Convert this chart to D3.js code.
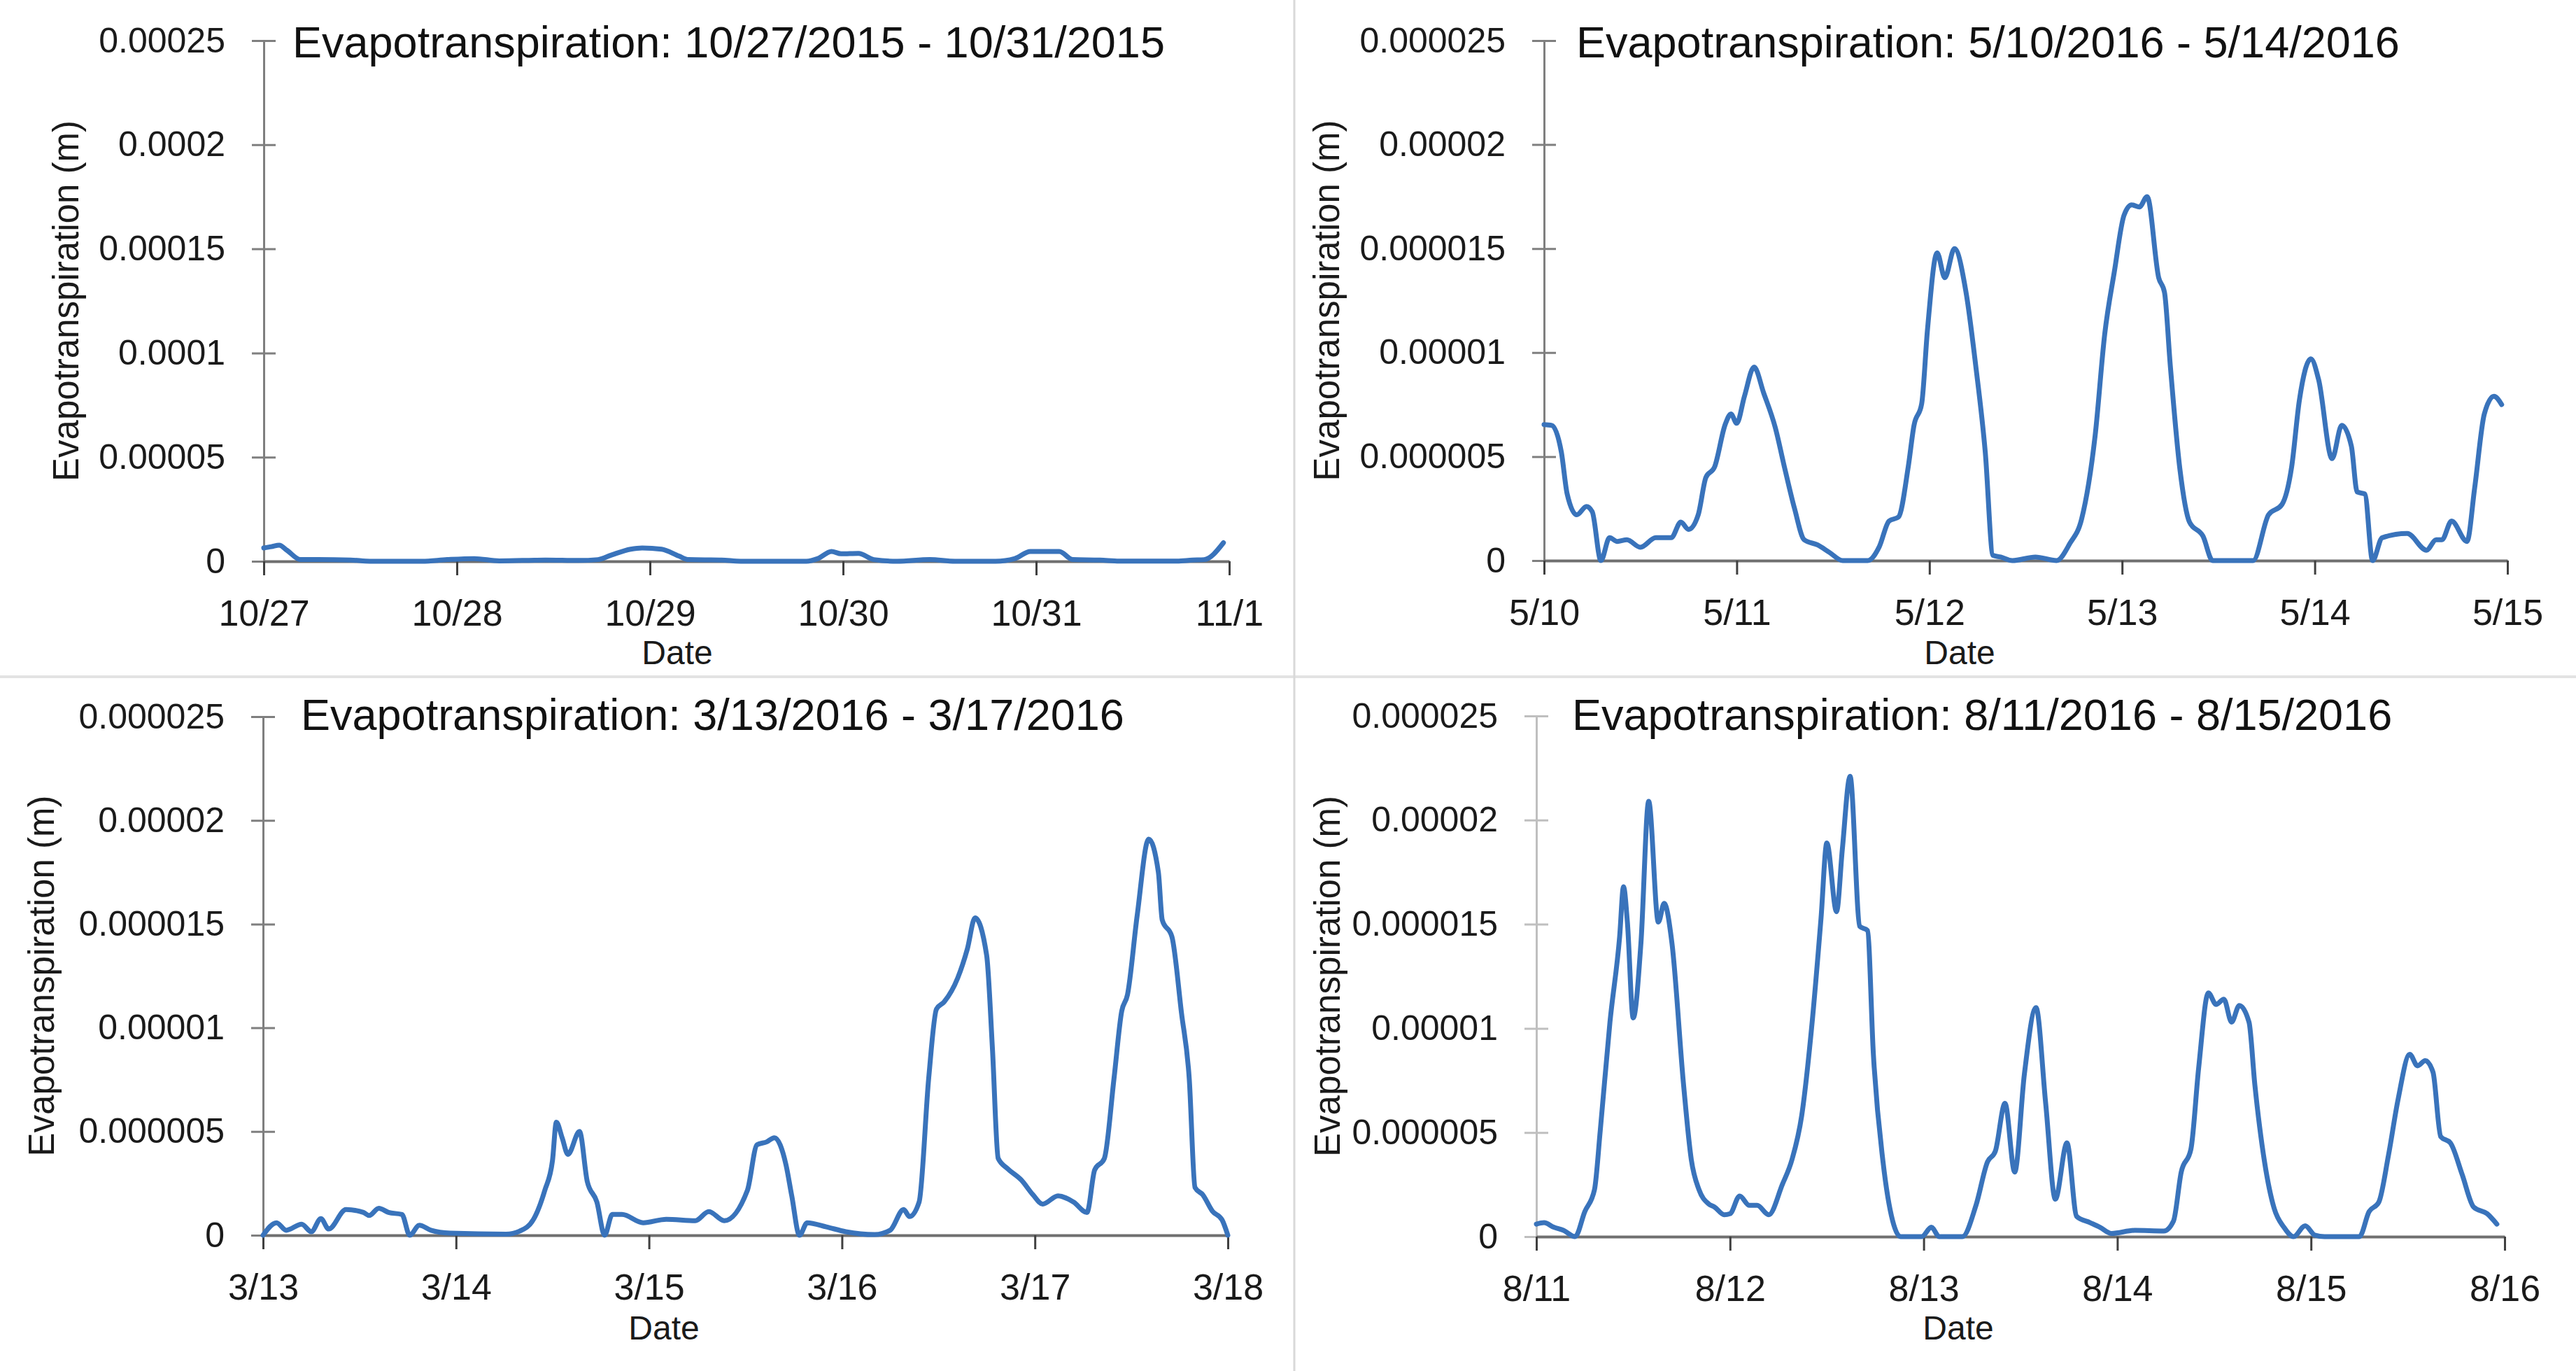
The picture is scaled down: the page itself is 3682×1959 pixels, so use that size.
<!DOCTYPE html>
<html>
<head>
<meta charset="utf-8">
<script src="https://cdn.jsdelivr.net/npm/d3@7"></script>
<style>
  body { margin: 0; background: #fff; }
  svg { display: block; }
</style>
</head>
<body>
<div id="plot"></div>
<script>
const CANVAS_WIDTH  = 3682;
const CANVAS_HEIGHT = 1959;
const LINE_COLOR    = "#3973bb";
const FONT          = "'Liberation Sans', Arial, sans-serif";

// values are in micrometres (1e-6 m); x is days since the first tick
const ET_OCT_2015 = [
  [0, 6.4], [0.04, 7.0], [0.08, 7.75], [0.12, 5.3], [0.19, 0.8], [0.28, 0.8], [0.45, 0.6],
  [0.55, 0], [0.82, 0], [0.95, 0.8], [1.09, 1.3], [1.22, 0.2], [1.46, 0.6], [1.63, 0.4],
  [1.73, 0.8], [1.8, 3.0], [1.9, 5.8], [1.96, 6.4], [2.06, 5.8], [2.15, 2.5], [2.2, 0.8],
  [2.37, 0.6], [2.47, 0], [2.81, 0], [2.87, 1.3], [2.94, 4.7], [2.99, 3.6], [3.08, 3.8],
  [3.16, 0.8], [3.28, 0], [3.45, 0.8], [3.58, 0], [3.79, 0], [3.89, 1.3], [3.97, 4.7],
  [4.12, 4.7], [4.19, 0.8], [4.33, 0.6], [4.43, 0.1], [4.73, 0.1], [4.81, 0.6], [4.87, 0.8],
  [4.97, 8.9]
];

const ET_MAY_2016 = [
  [0, 6.54], [0.04, 6.5], [0.09, 5.2], [0.12, 3.2], [0.17, 2.2], [0.22, 2.6], [0.25, 2.35],
  [0.295, 0], [0.34, 1.1], [0.38, 0.92], [0.43, 1.0], [0.5, 0.64], [0.58, 1.1], [0.66, 1.1],
  [0.71, 1.85], [0.75, 1.5], [0.8, 2.2], [0.84, 4.0], [0.885, 4.5], [0.94, 6.54], [0.97, 7.05],
  [1.0, 6.6], [1.04, 7.9], [1.09, 9.3], [1.14, 8.05], [1.2, 6.4], [1.25, 4.4], [1.3, 2.5],
  [1.35, 1.0], [1.42, 0.75], [1.48, 0.4], [1.55, 0], [1.68, 0], [1.74, 0.67], [1.79, 1.9],
  [1.84, 2.1], [1.89, 4.5], [1.92, 6.5], [1.96, 7.55], [1.99, 11.1], [2.04, 14.8], [2.08, 13.6],
  [2.13, 15.0], [2.19, 12.9], [2.24, 9.4], [2.29, 5.2], [2.33, 0.25], [2.37, 0.17], [2.43, 0],
  [2.55, 0.17], [2.66, 0], [2.73, 0.84], [2.79, 2.0], [2.86, 6.0], [2.91, 10.9], [2.96, 13.9],
  [3.01, 16.6], [3.05, 17.1], [3.09, 17.0], [3.13, 17.5], [3.19, 13.6], [3.22, 12.9], [3.25, 9.4],
  [3.3, 4.4], [3.35, 1.85], [3.42, 1.17], [3.47, 0], [3.68, 0], [3.76, 2.2], [3.83, 2.7],
  [3.88, 4.5], [3.92, 7.7], [3.98, 9.7], [4.02, 8.7], [4.09, 4.9], [4.14, 6.5], [4.19, 5.5],
  [4.22, 3.3], [4.26, 3.2], [4.3, 0], [4.35, 1.1], [4.48, 1.3], [4.58, 0.5], [4.63, 1.0],
  [4.66, 1.0], [4.71, 1.9], [4.79, 0.92], [4.83, 3.5], [4.88, 7.05], [4.93, 7.9], [4.97, 7.5]
];

const ET_MAR_2016 = [
  [0, 0], [0.07, 0.6], [0.12, 0.24], [0.2, 0.53], [0.25, 0.17], [0.3, 0.8], [0.34, 0.3],
  [0.43, 1.24], [0.52, 1.1], [0.55, 0.95], [0.6, 1.3], [0.65, 1.1], [0.72, 1.0], [0.76, 0],
  [0.81, 0.48], [0.87, 0.24], [0.97, 0.1], [1.26, 0.05], [1.33, 0.2], [1.4, 0.74], [1.46, 2.16],
  [1.5, 3.6], [1.52, 5.45], [1.55, 4.7], [1.58, 3.9], [1.64, 5.0], [1.68, 2.6], [1.73, 1.6],
  [1.77, 0], [1.81, 1.0], [1.86, 1.0], [1.97, 0.6], [2.09, 0.77], [2.24, 0.7], [2.31, 1.14],
  [2.39, 0.7], [2.51, 2.16], [2.56, 4.36], [2.61, 4.5], [2.65, 4.7], [2.71, 3.4], [2.74, 1.9],
  [2.78, 0], [2.82, 0.6], [2.92, 0.4], [3.02, 0.17], [3.17, 0.03], [3.25, 0.24], [3.32, 1.24],
  [3.35, 0.9], [3.4, 1.6], [3.45, 7.6], [3.49, 10.9], [3.53, 11.25], [3.6, 12.4], [3.65, 13.8],
  [3.69, 15.3], [3.75, 13.5], [3.78, 9.0], [3.81, 3.7], [3.86, 3.2], [3.93, 2.66], [3.99, 1.95],
  [4.04, 1.5], [4.12, 1.9], [4.2, 1.6], [4.27, 1.1], [4.31, 3.15], [4.36, 3.7], [4.41, 7.55],
  [4.45, 10.8], [4.48, 11.6], [4.53, 15.4], [4.59, 19.1], [4.64, 17.5], [4.66, 15.2], [4.71, 14.4],
  [4.76, 10.7], [4.8, 7.55], [4.83, 2.3], [4.87, 1.95], [4.92, 1.16], [4.97, 0.74], [5.0, 0]
];

const ET_AUG_2016 = [
  [0, 0.6], [0.04, 0.67], [0.09, 0.45], [0.14, 0.3], [0.2, 0], [0.25, 1.2], [0.3, 2.25],
  [0.33, 5.1], [0.38, 10.3], [0.43, 14.4], [0.45, 16.8], [0.47, 15.1], [0.5, 10.5], [0.54, 14.1],
  [0.58, 20.9], [0.63, 15.1], [0.66, 16.0], [0.7, 14.1], [0.76, 7.3], [0.8, 3.7], [0.84, 2.25],
  [0.89, 1.57], [0.92, 1.42], [0.97, 1.05], [1.0, 1.1], [1.05, 1.95], [1.1, 1.5], [1.14, 1.5],
  [1.2, 1.05], [1.27, 2.5], [1.32, 3.7], [1.37, 5.8], [1.42, 9.9], [1.47, 15.3], [1.5, 18.9],
  [1.55, 15.6], [1.58, 18.6], [1.62, 22.1], [1.67, 14.9], [1.71, 14.7], [1.74, 8.8], [1.79, 3.6],
  [1.84, 0.75], [1.88, 0], [1.99, 0], [2.04, 0.45], [2.08, 0], [2.2, 0], [2.27, 1.5],
  [2.33, 3.6], [2.37, 4.1], [2.42, 6.4], [2.47, 3.1], [2.52, 7.8], [2.58, 11.0], [2.63, 6.4],
  [2.68, 1.8], [2.74, 4.5], [2.79, 0.97], [2.86, 0.67], [2.91, 0.45], [2.97, 0.15], [3.09, 0.3],
  [3.24, 0.27], [3.29, 0.75], [3.33, 3.1], [3.38, 4.2], [3.42, 8.1], [3.47, 11.7], [3.51, 11.15],
  [3.55, 11.4], [3.59, 10.3], [3.63, 11.1], [3.68, 10.3], [3.71, 7.3], [3.76, 3.6], [3.81, 1.35],
  [3.86, 0.45], [3.91, 0], [3.97, 0.52], [4.02, 0.07], [4.07, 0], [4.25, 0], [4.3, 1.2],
  [4.35, 1.65], [4.4, 3.9], [4.45, 6.6], [4.51, 8.75], [4.55, 8.2], [4.59, 8.45], [4.63, 7.9],
  [4.67, 4.8], [4.72, 4.5], [4.78, 3.0], [4.84, 1.42], [4.91, 1.1], [4.96, 0.6]
];

const DAYS_OCT_2015 = ["10/27", "10/28", "10/29", "10/30", "10/31", "11/1"];
const DAYS_MAY_2016 = ["5/10", "5/11", "5/12", "5/13", "5/14", "5/15"];
const DAYS_MAR_2016 = ["3/13", "3/14", "3/15", "3/16", "3/17", "3/18"];
const DAYS_AUG_2016 = ["8/11", "8/12", "8/13", "8/14", "8/15", "8/16"];

const Y_TICKS_LARGE  = [0, 50, 100, 150, 200, 250];
const Y_LABELS_LARGE = ["0", "0.00005", "0.0001", "0.00015", "0.0002", "0.00025"];
const Y_TICKS_SMALL  = [0, 5, 10, 15, 20, 25];
const Y_LABELS_SMALL = ["0", "0.000005", "0.00001", "0.000015", "0.00002", "0.000025"];

const TITLES = [
  "Evapotranspiration: 10/27/2015 - 10/31/2015",
  "Evapotranspiration: 5/10/2016 - 5/14/2016",
  "Evapotranspiration: 3/13/2016 - 3/17/2016",
  "Evapotranspiration: 8/11/2016 - 8/15/2016"
];

// panel boxes in pixels
var panels = [
  { data: ET_OCT_2015, days: DAYS_OCT_2015, ticks: Y_TICKS_LARGE, labels: Y_LABELS_LARGE, title: TITLES[0],
    x0: 377, x1: 1757, yTop: 58, yZero: 802, titleX: 418, titleY: 82, ylabX: 94, dateX: 968, dateY: 949, axisColor: "#7f7f7f" },
  { data: ET_MAY_2016, days: DAYS_MAY_2016, ticks: Y_TICKS_SMALL, labels: Y_LABELS_SMALL, title: TITLES[1],
    x0: 2207, x1: 3584, yTop: 58, yZero: 801, titleX: 2253, titleY: 82, ylabX: 1896, dateX: 2801, dateY: 949, axisColor: "#7f7f7f" },
  { data: ET_MAR_2016, days: DAYS_MAR_2016, ticks: Y_TICKS_SMALL, labels: Y_LABELS_SMALL, title: TITLES[2],
    x0: 376, x1: 1755, yTop: 1024, yZero: 1765, titleX: 430, titleY: 1043, ylabX: 59, dateX: 949, dateY: 1914, axisColor: "#7f7f7f" },
  { data: ET_AUG_2016, days: DAYS_AUG_2016, ticks: Y_TICKS_SMALL, labels: Y_LABELS_SMALL, title: TITLES[3],
    x0: 2196, x1: 3580, yTop: 1023, yZero: 1767, titleX: 2247, titleY: 1043, ylabX: 1897, dateX: 2799, dateY: 1914, axisColor: "#bfbfbf" }
];

var svg = d3.select("#plot")
            .append("svg")
            .attr("width", CANVAS_WIDTH)
            .attr("height", CANVAS_HEIGHT);

svg.append("rect")
   .attr("width", CANVAS_WIDTH)
   .attr("height", CANVAS_HEIGHT)
   .attr("fill", "#fff");

// separators between the four charts
svg.append("line")
   .attr("x1", 0).attr("x2", CANVAS_WIDTH)
   .attr("y1", 967).attr("y2", 967)
   .attr("stroke", "#e3e3e3")
   .attr("stroke-width", 4);

svg.append("line")
   .attr("x1", 1850).attr("x2", 1850)
   .attr("y1", 0).attr("y2", CANVAS_HEIGHT)
   .attr("stroke", "#d9d9d9")
   .attr("stroke-width", 3);

function drawPanel(p) {
    var g = svg.append("g");

    var xScale = d3.scaleLinear()
                   .domain([0, 5])
                   .range([p.x0, p.x1]);
    var yScale = d3.scaleLinear()
                   .domain([0, p.ticks[p.ticks.length - 1]])
                   .range([p.yZero, p.yTop]);

    // y axis
    var yAxis = d3.axisLeft(yScale)
                  .tickValues(p.ticks)
                  .tickFormat(function(d, i) { return p.labels[i]; })
                  .tickSize(17)
                  .tickPadding(38);
    var ya = g.append("g")
              .attr("transform", "translate(" + p.x0 + ",0)")
              .call(yAxis);
    ya.select(".domain").attr("stroke", p.axisColor).attr("stroke-width", 3);
    ya.selectAll(".tick line")
      .attr("x1", -17).attr("x2", 17)
      .attr("stroke", p.axisColor).attr("stroke-width", 3);
    ya.selectAll(".tick text")
      .attr("font-family", FONT)
      .attr("font-size", 50)
      .attr("fill", "#1a1a1a");

    // x axis
    var xAxis = d3.axisBottom(xScale)
                  .tickValues(d3.range(6))
                  .tickFormat(function(d, i) { return p.days[i]; })
                  .tickSizeInner(20)
                  .tickSizeOuter(0)
                  .tickPadding(35);
    var xa = g.append("g")
              .attr("transform", "translate(0," + p.yZero + ")")
              .call(xAxis);
    xa.select(".domain").attr("stroke", "#6f6f6f").attr("stroke-width", 4);
    xa.selectAll(".tick line").attr("stroke", "#404040").attr("stroke-width", 3);
    xa.selectAll(".tick text")
      .attr("font-family", FONT)
      .attr("font-size", 52)
      .attr("fill", "#1a1a1a");

    // the series
    var line = d3.line()
                 .x(function(d) { return xScale(d[0]); })
                 .y(function(d) { return yScale(d[1]); })
                 .curve(d3.curveMonotoneX);
    g.append("path")
     .datum(p.data)
     .attr("d", line)
     .attr("fill", "none")
     .attr("stroke", LINE_COLOR)
     .attr("stroke-width", 7)
     .attr("stroke-linejoin", "round")
     .attr("stroke-linecap", "round");

    // title and axis titles
    g.append("text")
     .attr("x", p.titleX)
     .attr("y", p.titleY)
     .attr("font-family", FONT)
     .attr("font-size", 63)
     .attr("fill", "#111")
     .text(p.title);

    g.append("text")
     .attr("transform", "translate(" + p.ylabX + "," + ((p.yTop + p.yZero) / 2) + ") rotate(-90)")
     .attr("text-anchor", "middle")
     .attr("dy", "0.35em")
     .attr("font-family", FONT)
     .attr("font-size", 51)
     .attr("fill", "#1a1a1a")
     .text("Evapotranspiration (m)");

    g.append("text")
     .attr("x", p.dateX)
     .attr("y", p.dateY)
     .attr("text-anchor", "middle")
     .attr("font-family", FONT)
     .attr("font-size", 48)
     .attr("fill", "#1a1a1a")
     .text("Date");
}

panels.forEach(drawPanel);
</script>
</body>
</html>
